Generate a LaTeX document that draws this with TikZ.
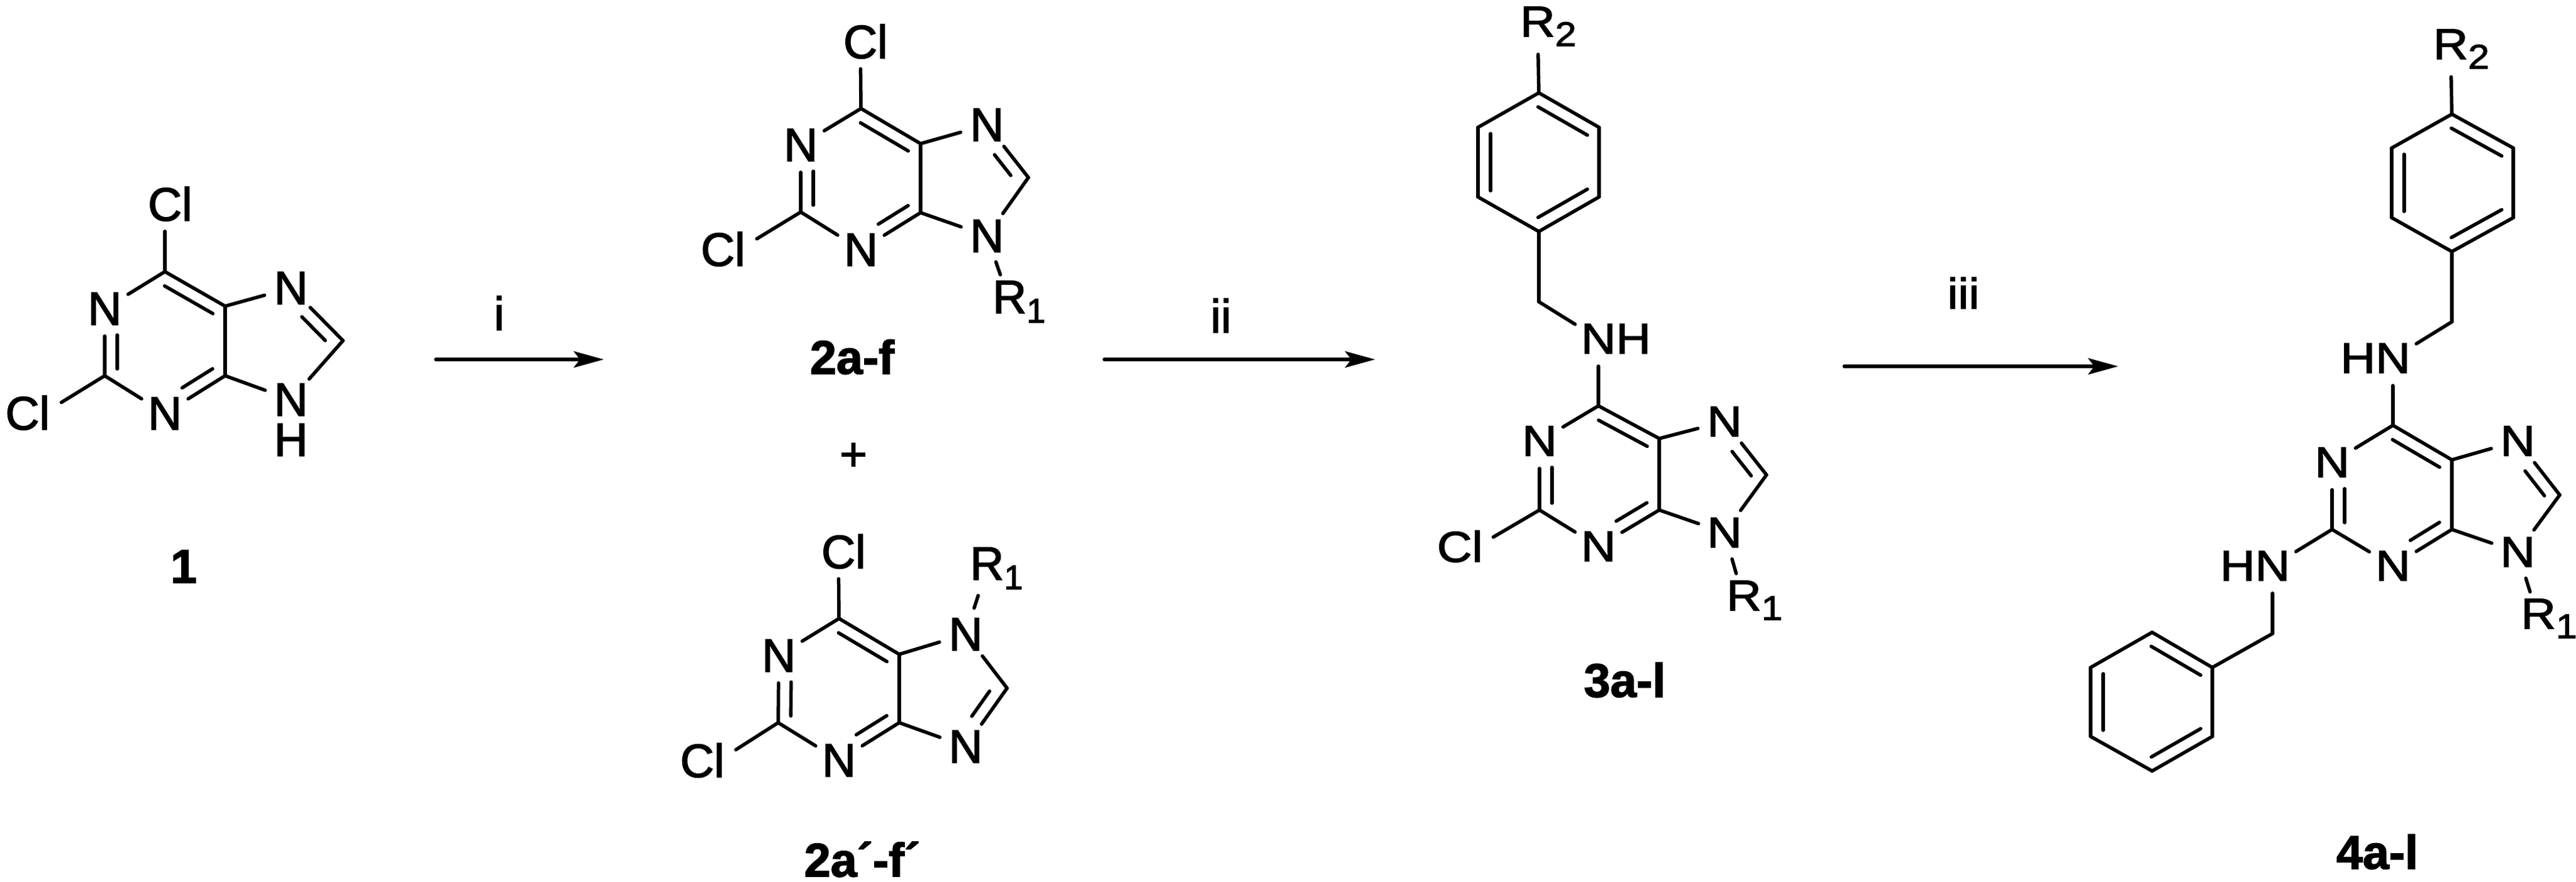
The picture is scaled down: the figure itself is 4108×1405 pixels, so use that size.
\documentclass[tikz,border=0pt]{standalone}
\usepackage{fontspec}
\setmainfont{Liberation Sans}[FakeBold=2]
\newfontfamily\widefam{Liberation Sans}[FakeStretch=1.12,FakeBold=2]
\usetikzlibrary{calc}
\usetikzlibrary{arrows.meta}

\newcommand{\atomfont}{\fontsize{21.3}{24}\selectfont}
\newcommand{\Rsub}[1]{R\rlap{\raisebox{-0.15cm}{\fontsize{15.5}{18}\selectfont #1}}}
% inner line lies to the right of a->b, so rings are walked clockwise
\newcommand{\dbl}[4]{%
    \draw (#1) -- (#2);
    \draw[shorten <=#3cm, shorten >=#4cm] ($(#1)!.2cm!-90:(#2)$) -- ($(#2)!.2cm!90:(#1)$);
}

\tikzset{
    atom/.style={circle, inner sep=0pt, minimum size=.82cm, font=\atomfont},
    halo/.style={atom, minimum size=.4cm},
    cpd/.style={inner sep=0pt, font=\fontsize{21.5}{24}\selectfont\bfseries},
    tag/.style={inner sep=0pt, font=\atomfont},
    rxn/.style={-{Stealth[length=.48cm,width=.26cm,inset=.1cm]}}
}

\begin{document}
\begin{tikzpicture}[x=.01cm, y=-.01cm, line width=.055cm, line cap=round]
    \useasboundingbox (0,0) rectangle (4108,1405);

    % compound 1
    \coordinate (ac6) at (263,433);
    \coordinate (ac5) at (359,488);
    \coordinate (ac4) at (359,599);
    \coordinate (ac2) at (167,599);
    \coordinate (ac8) at (547,543);
    \node[atom] (an1) at (167,492) {N};
    \node[atom] (an3) at (263,659) {N};
    \node[atom] (an7) at (464,459) {N};
    \node[atom] (an9) at (464,637) {N\llap{\smash{\raisebox{-.64cm}{H}}}};
    \node[atom] (acl6) at (263,325) {C\rlap{l}};
    \node[halo] (acl2) at (71,658) {\llap{C}l};
    \node[cpd] (alabel) at (293,903) {1};
    \foreach \a/\b in {ac6/acl6, ac6/an1, ac2/acl2, ac2/an3, ac5/ac4, ac5/an7, ac4/an9, ac8/an9}
        \draw (\a) -- (\b);
    \dbl{ac6}{ac5}{.11}{.11}
    \dbl{ac4}{an3}{.11}{.45}
    \dbl{ac2}{an1}{.11}{.42}
    \dbl{an7}{ac8}{.45}{.2}

    % arrow i
    \coordinate (ar1a) at (695,573);
    \coordinate (ar1b) at (963,573);
    \draw[rxn] (ar1a) -- (ar1b);
    \node[tag] (ti) at (796,499) {i};

    % compound 2
    \coordinate (bc6) at (1373,173);
    \coordinate (bc5) at (1468,229);
    \coordinate (bc4) at (1468,339);
    \coordinate (bc2) at (1277,338);
    \coordinate (bc8) at (1640,283);
    \node[atom] (bn1) at (1277,231) {N};
    \node[atom] (bn3) at (1373,398) {N};
    \node[atom] (bn7) at (1574,199) {N};
    \node[atom] (bn9) at (1574,376) {N};
    \node[atom] (bcl6) at (1372,66) {C\rlap{l}};
    \node[halo] (bcl2) at (1180,397) {\llap{C}l};
    \node[atom] (br1) at (1610,481) {\Rsub{1}};
    \node[cpd] (blabel) at (1359,569) {2a-f};
    \foreach \a/\b in {bc6/bcl6, bc6/bn1, bc2/bcl2, bc2/bn3, bc5/bc4, bc5/bn7, bc4/bn9, bc8/bn9, bn9/br1}
        \draw (\a) -- (\b);
    \dbl{bc6}{bc5}{.11}{.11}
    \dbl{bc4}{bn3}{.11}{.45}
    \dbl{bc2}{bn1}{.11}{.42}
    \dbl{bn7}{bc8}{.45}{.2}

    \node[tag] (plus) at (1361,728) {+};

    % compound 2'
    \coordinate (cc6) at (1338,986);
    \coordinate (cc5) at (1434,1043);
    \coordinate (cc4) at (1434,1152);
    \coordinate (cc2) at (1241,1152);
    \coordinate (cc8) at (1606,1097);
    \node[atom] (cn1) at (1242,1045) {N};
    \node[atom] (cn3) at (1338,1212) {N};
    \node[atom] (cn7) at (1540,1011) {N};
    \node[atom] (cn9) at (1540,1190) {N};
    \node[atom] (ccl6) at (1337,879) {C\rlap{l}};
    \node[halo] (ccl2) at (1147,1212) {\llap{C}l};
    \node[atom] (cr1) at (1574,906) {\Rsub{1}};
    \node[cpd] (clabel) at (1375,1370) {2a´-f´};
    \foreach \a/\b in {cc6/ccl6, cc6/cn1, cc2/ccl2, cc2/cn3, cc5/cc4, cc5/cn7, cc4/cn9, cn7/cc8, cn7/cr1}
        \draw (\a) -- (\b);
    \dbl{cc6}{cc5}{.11}{.11}
    \dbl{cc4}{cn3}{.11}{.45}
    \dbl{cc2}{cn1}{.11}{.42}
    \dbl{cc8}{cn9}{.2}{.45}

    % arrow ii
    \coordinate (ar2a) at (1761,573);
    \coordinate (ar2b) at (2193,573);
    \draw[rxn] (ar2a) -- (ar2b);
    \node[tag] (tii) at (1947,503) {ii};

    % the right half of the picture is set lower and wider
    \renewcommand{\atomfont}{\widefam\fontsize{19.6}{24}\selectfont}

    % compound 3
    \coordinate (dtop) at (2454,148);
    \coordinate (dur) at (2550,203);
    \coordinate (dlr) at (2550,314);
    \coordinate (dbot) at (2454,369);
    \coordinate (dll) at (2357,314);
    \coordinate (dul) at (2357,203);
    \coordinate (dch) at (2454,481);
    \coordinate (dc6) at (2549,647);
    \coordinate (dc5) at (2646,699);
    \coordinate (dc4) at (2646,813);
    \coordinate (dc2) at (2455,813);
    \coordinate (dc8) at (2817,757);
    \node[atom] (dr2) at (2452,42) {\Rsub{2}};
    \node[atom] (dnh) at (2549,540) {N\rlap{H}};
    \node[atom] (dn1) at (2455,703) {N};
    \node[atom] (dn3) at (2549,871) {N};
    \node[atom] (dn7) at (2750,672) {N};
    \node[atom] (dn9) at (2750,849) {N};
    \node[halo] (dcl2) at (2356,871) {\llap{C}l};
    \node[atom] (dr1) at (2781,957) {\Rsub{1}};
    \node[cpd] (dlabel) at (2591,1084) {3a-l};
    \foreach \a/\b in {dtop/dr2, dur/dlr, dbot/dll, dul/dtop, dbot/dch, dch/dnh, dnh/dc6, dc6/dn1, dc2/dcl2, dc2/dn3, dc5/dc4, dc5/dn7, dc4/dn9, dc8/dn9, dn9/dr1}
        \draw (\a) -- (\b);
    \dbl{dtop}{dur}{.1}{.1}
    \dbl{dlr}{dbot}{.1}{.1}
    \dbl{dll}{dul}{.1}{.1}
    \dbl{dc6}{dc5}{.11}{.11}
    \dbl{dc4}{dn3}{.11}{.45}
    \dbl{dc2}{dn1}{.11}{.42}
    \dbl{dn7}{dc8}{.45}{.14}

    % arrow iii
    \coordinate (ar3a) at (2941,584);
    \coordinate (ar3b) at (3378,584);
    \draw[rxn] (ar3a) -- (ar3b);
    \node[tag] (tiii) at (3131,467) {iii};

    % compound 4
    \coordinate (etop) at (3910,182);
    \coordinate (eur) at (4008,236);
    \coordinate (elr) at (4008,347);
    \coordinate (ebot) at (3910,401);
    \coordinate (ell) at (3814,347);
    \coordinate (eul) at (3814,236);
    \coordinate (ech) at (3910,513);
    \coordinate (ec6) at (3816,678);
    \coordinate (ec5) at (3910,733);
    \coordinate (ec4) at (3910,844);
    \coordinate (ec2) at (3719,844);
    \coordinate (ec8) at (4082,789);
    \coordinate (ech2) at (3624,1010);
    \coordinate (ftop) at (3432,1008);
    \coordinate (fur) at (3528,1064);
    \coordinate (flr) at (3528,1174);
    \coordinate (fbot) at (3432,1229);
    \coordinate (fll) at (3334,1174);
    \coordinate (ful) at (3334,1064);
    \node[atom] (er2) at (3908,78) {\Rsub{2}};
    \node[atom] (enh) at (3816,571) {\llap{H}N};
    \node[atom] (en1) at (3719,737) {N};
    \node[atom] (en3) at (3816,902) {N};
    \node[atom] (en7) at (4015,703) {N};
    \node[atom] (en9) at (4015,880) {N};
    \node[atom] (enh2) at (3624,902) {\llap{H}N};
    \node[atom] (er1) at (4048,986) {\Rsub{1}};
    \node[cpd] (elabel) at (3791,1358) {4a-l};
    \foreach \a/\b in {etop/er2, eur/elr, ebot/ell, eul/etop, ebot/ech, ech/enh, enh/ec6, ec6/en1, ec2/enh2, ec2/en3, ec5/ec4, ec5/en7, ec4/en9, ec8/en9, en9/er1, enh2/ech2, ech2/fur, fur/flr, fbot/fll, ful/ftop}
        \draw (\a) -- (\b);
    \dbl{etop}{eur}{.1}{.1}
    \dbl{elr}{ebot}{.1}{.1}
    \dbl{ell}{eul}{.1}{.1}
    \dbl{ftop}{fur}{.1}{.1}
    \dbl{flr}{fbot}{.1}{.1}
    \dbl{fll}{ful}{.1}{.1}
    \dbl{ec6}{ec5}{.11}{.11}
    \dbl{ec4}{en3}{.11}{.45}
    \dbl{ec2}{en1}{.11}{.42}
    \dbl{en7}{ec8}{.45}{.14}
\end{tikzpicture}
\end{document}
